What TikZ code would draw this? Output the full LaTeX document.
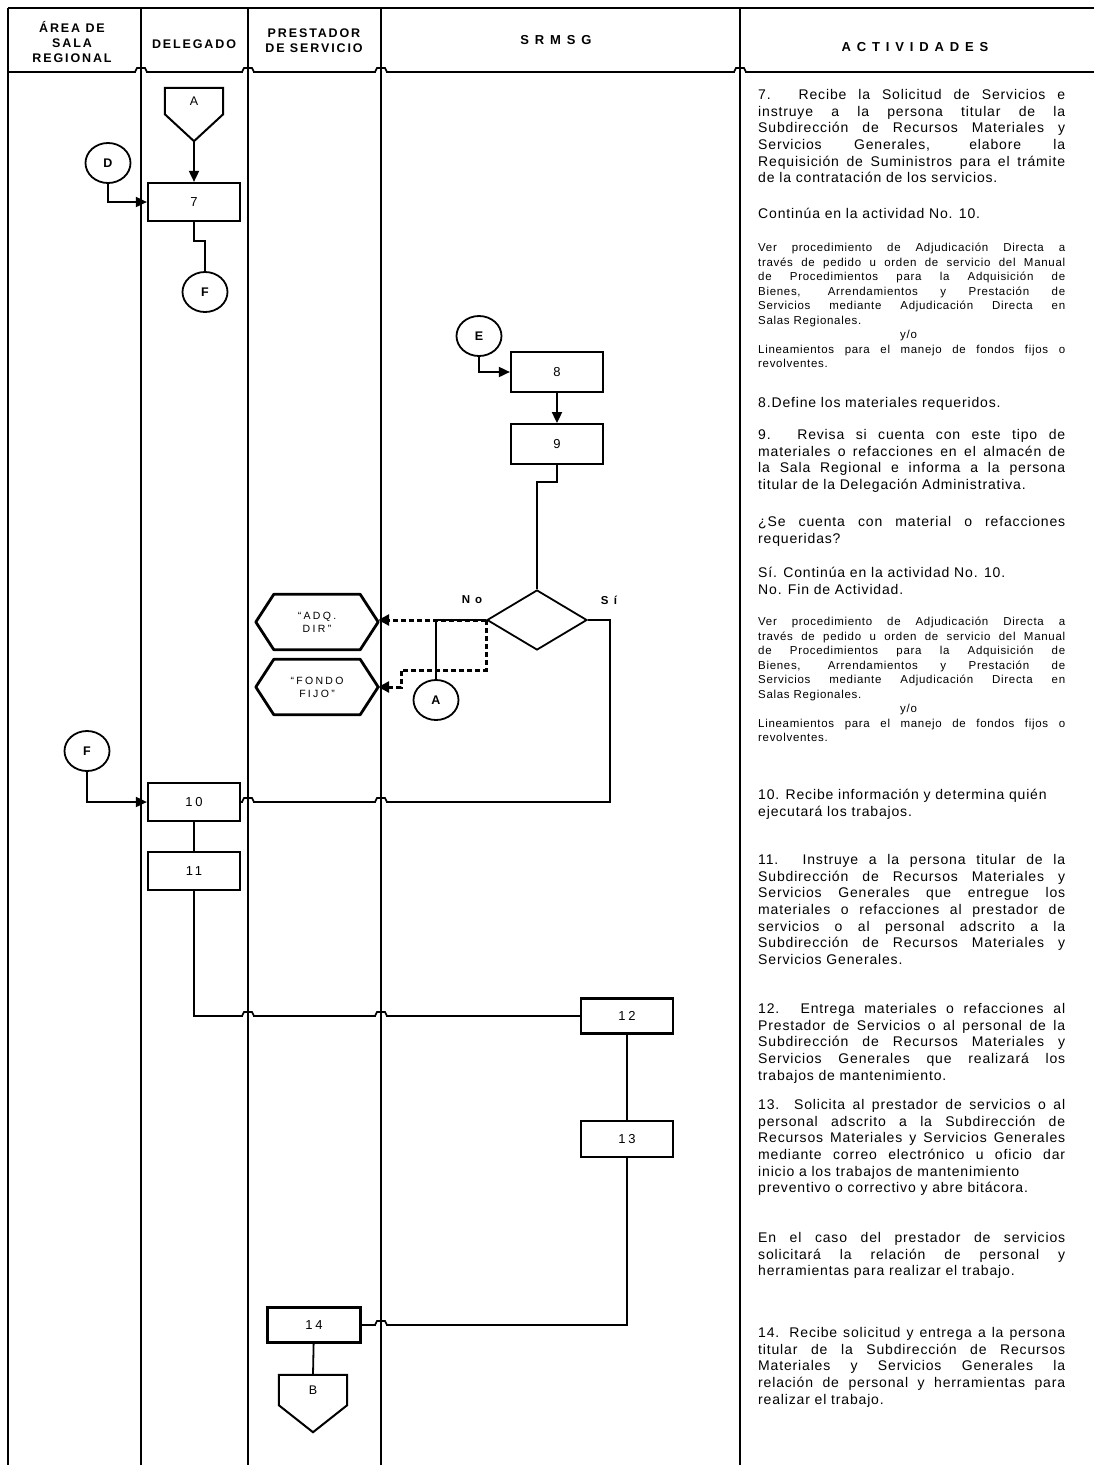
\documentclass[tikz,border=0pt]{standalone}
\usepackage{fontspec}
\setmainfont{Liberation Sans}
\newfontfamily\actfont[LetterSpace=6]{Liberation Sans}
\newfontfamily\headfont[LetterSpace=15]{Liberation Sans}
\newfontfamily\widefont[LetterSpace=45]{Liberation Sans}
\newfontfamily\numfont[LetterSpace=20]{Liberation Sans}
\newfontfamily\hexfont[LetterSpace=22]{Liberation Sans}
\usetikzlibrary{arrows.meta, positioning, shapes.geometric, calc}

\begin{document}
\begin{tikzpicture}[x=1pt, y=1pt,
    lane/.style={line width=1.8pt},
    line/.style={line width=1.8pt},
    arrow/.style={line width=1.8pt, -{Triangle[length=11pt, width=10pt]}},
    dasharrow/.style={line width=3pt, dash pattern=on 5pt off 3pt, -{Triangle[length=11pt, width=11pt]}},
    proc/.style={draw, line width=2.2pt, minimum width=92pt, minimum height=38pt, inner sep=0pt, font=\numfont\fontsize{13}{13}\selectfont},
    conn/.style={draw, ellipse, line width=1.8pt, minimum width=45pt, minimum height=40pt, inner sep=0pt, font=\bfseries\fontsize{12.5}{12.5}\selectfont},
    offpage/.style={minimum width=58pt, minimum height=26pt, inner sep=0pt, font=\fontsize{12.5}{12.5}\selectfont},
    hexbox/.style={minimum width=122pt, minimum height=55pt, inner sep=0pt, align=center, font=\hexfont\fontsize{10.5}{13}\selectfont},
    head/.style={align=center, font=\headfont\bfseries\fontsize{12.5}{15}\selectfont},
    label/.style={font=\widefont\bfseries\fontsize{11.5}{11.5}\selectfont},
    act/.style={anchor=north west, inner sep=0pt, text width=307pt, align=justify, font=\actfont\fontsize{14}{16.7}\selectfont},
    note/.style={act, font=\actfont\fontsize{11.5}{14.5}\selectfont},
    pics/hop/.style={code={
      \fill[white] (-5,-1.4) rectangle (5,1.4);
      \draw[line, line width=1.6pt] (-6,0) -- (-4,4) -- (4,4) -- (6,0);}}
]
  \useasboundingbox (0,0) rectangle (1094,-1465);

  % header
  \draw[lane] (8,-8) -- (1094,-8);
  \draw[lane] (8,-72) -- (1094,-72);
  \node[head] (hsala) at (72,-42) {ÁREA DE\\SALA\\REGIONAL};
  \node[head] (hdel) at (194,-44) {DELEGADO};
  \node[head] (hprest) at (314,-41) {PRESTADOR\\DE SERVICIO};
  \node[head, font=\widefont\bfseries\fontsize{13}{13}\selectfont] (hsrmsg) at (556,-40) {SRMSG};
  \node[head, font=\widefont\bfseries\fontsize{13}{13}\selectfont] (hact) at (915,-47) {ACTIVIDADES};

  % delegado, first part
  \node[offpage] (offA) at (194,-101) {\raisebox{-5pt}{A}};
  \coordinate (tipA) at ($(offA.south)+(0,-27)$);
  \node[proc] (b7) at (194,-202) {7};
  \node[conn] (D) at (108,-163) {D};
  \node[conn] (Fup) at (205,-292) {F};
  \draw[arrow] (tipA) -- (b7.north);
  \draw[arrow] (D.south) |- (b7.west);
  \draw[line] (b7.south) -- ++(0,-19) -| (Fup.north);

  % srmsg, 8 and 9
  \node[conn] (E) at (479,-336) {E};
  \node[proc, minimum height=40pt] (b8) at (557,-372) {8};
  \node[proc, minimum height=40pt, below=30pt of b8] (b9) {9};
  \draw[arrow] (E.south) |- (b8.west);
  \draw[arrow] (b8) -- (b9);

  % decision
  \node[draw, diamond, aspect=1.67, line width=1.8pt, minimum width=100pt, minimum height=60pt, inner sep=0pt] (dec) at (537,-620) {};
  \node[label] (lblno) at (472,-600) {No};
  \node[label] (lblsi) at (609,-600) {Sí};
  \draw[line] (b9.south) -- ++(0,-17) -| (dec.north);
  \node[hexbox] (hadq) at (317,-622) {“ADQ.\\DIR”};
  \node[hexbox] (hfondo) at (317,-687) {“FONDO\\FIJO”};
  \foreach \h in {hadq,hfondo}
    \draw[line width=2.8pt, line join=round] (\h.west) -- ($(\h.north west)+(18,0)$) -- ($(\h.north east)+(-18,0)$)
      -- (\h.east) -- ($(\h.south east)+(-18,0)$) -- ($(\h.south west)+(18,0)$) -- cycle;
  \node[conn] (Acon) at (436,-700) {A};
  \draw[line] (dec.west) -| (Acon.north);
  \draw[dasharrow] (dec.west) -- (dec.west -| hadq.east);
  \draw[dasharrow] (dec.west) -- ++(0,-50) -- ++(-85,0) |- (hfondo.east);

  % 10 and 11
  \node[conn] (Flow) at (87,-751) {F};
  \node[proc] (b10) at (194,-802) {10};
  \node[proc, below=29pt of b10] (b11) {11};
  \draw[arrow] (Flow.south) |- (b10.west);
  \draw[line] (dec.east) -- ++(22,0) |- (b10.east);
  \draw[line] (b10) -- (b11);

  % 12, 13, 14
  \node[proc, minimum height=35pt] (b12) at (627,-1016) {12};
  \node[proc, minimum height=36pt, below=85pt of b12] (b13) {13};
  \node[proc, minimum height=35pt, minimum width=93pt] (b14) at (314,-1325) {14};
  \node[offpage, minimum width=68pt, minimum height=30pt] (offB) at (313,-1390) {\raisebox{-4pt}{B}};
  \draw[line] (b11.south) |- (b12.west);
  \draw[line] (b12) -- (b13);
  \draw[line] (b13.south) |- (b14.east);
  \draw[line] (b14) -- (offB.north);
  \foreach \o in {offA,offB}
    \draw[line, line width=2pt] (\o.north west) -- (\o.north east) -- (\o.south east)
      -- ($(\o.south)+(0,-27)$) -- (\o.south west) -- cycle;

  % line hops
  \foreach \hx in {141,248,381,740}
    \pic at (\hx,-72) {hop};
  \foreach \hx/\hy in {381/-802, 248/-802, 248/-1016, 381/-1016, 381/-1325}
    \pic at (\hx,\hy) {hop};

  % lanes
  \foreach \lx in {8,141,248,381,740}
    \draw[lane] (\lx,-8) -- (\lx,-1465);

  % activities
  \node[act] (t7) at (758,-89) {7. Recibe la Solicitud de Servicios e\linebreak instruye a la persona titular de la\linebreak Subdirección de Recursos Materiales y\linebreak Servicios Generales, elabore la\linebreak Requisición de Suministros para el trámite\linebreak de la contratación de los servicios.};
  \node[act] (t7b) at (758,-208) {Continúa en la actividad No. 10.};
  \node[note] (t7c) at (758,-243) {Ver procedimiento de Adjudicación Directa a\linebreak través de pedido u orden de servicio del Manual\linebreak de Procedimientos para la Adquisición de\linebreak Bienes, Arrendamientos y Prestación de\linebreak Servicios mediante Adjudicación Directa en\linebreak Salas Regionales.\newline\hspace*{142pt}y/o\newline Lineamientos para el manejo de fondos fijos o\linebreak revolventes.};
  \node[act] (t8) at (758,-397) {8.Define los materiales requeridos.};
  \node[act] (t9) at (758,-429) {9. Revisa si cuenta con este tipo de\linebreak materiales o refacciones en el almacén de\linebreak la Sala Regional e informa a la persona\linebreak titular de la Delegación Administrativa.};
  \node[act] (t9b) at (758,-516) {¿Se cuenta con material o refacciones\linebreak requeridas?};
  \node[act] (t9c) at (758,-567) {Sí. Continúa en la actividad No. 10.\newline No. Fin de Actividad.};
  \node[note] (t9d) at (758,-617) {Ver procedimiento de Adjudicación Directa a\linebreak través de pedido u orden de servicio del Manual\linebreak de Procedimientos para la Adquisición de\linebreak Bienes, Arrendamientos y Prestación de\linebreak Servicios mediante Adjudicación Directa en\linebreak Salas Regionales.\newline\hspace*{142pt}y/o\newline Lineamientos para el manejo de fondos fijos o\linebreak revolventes.};
  \node[act] (t10) at (758,-789) {10. Recibe información y determina quién\newline ejecutará los trabajos.};
  \node[act] (t11) at (758,-854) {11. Instruye a la persona titular de la\linebreak Subdirección de Recursos Materiales y\linebreak Servicios Generales que entregue los\linebreak materiales o refacciones al prestador de\linebreak servicios o al personal adscrito a la\linebreak Subdirección de Recursos Materiales y\linebreak Servicios Generales.};
  \node[act] (t12) at (758,-1003) {12. Entrega materiales o refacciones al\linebreak Prestador de Servicios o al personal de la\linebreak Subdirección de Recursos Materiales y\linebreak Servicios Generales que realizará los\linebreak trabajos de mantenimiento.};
  \node[act] (t13) at (758,-1099) {13. Solicita al prestador de servicios o al\linebreak personal adscrito a la Subdirección de\linebreak Recursos Materiales y Servicios Generales\linebreak mediante correo electrónico u oficio dar\linebreak inicio a los trabajos de mantenimiento\newline preventivo o correctivo y abre bitácora.};
  \node[act] (t13b) at (758,-1232) {En el caso del prestador de servicios\linebreak solicitará la relación de personal y\linebreak herramientas para realizar el trabajo.};
  \node[act] (t14) at (758,-1327) {14. Recibe solicitud y entrega a la persona\linebreak titular de la Subdirección de Recursos\linebreak Materiales y Servicios Generales la\linebreak relación de personal y herramientas para\linebreak realizar el trabajo.};
\end{tikzpicture}
\end{document}
